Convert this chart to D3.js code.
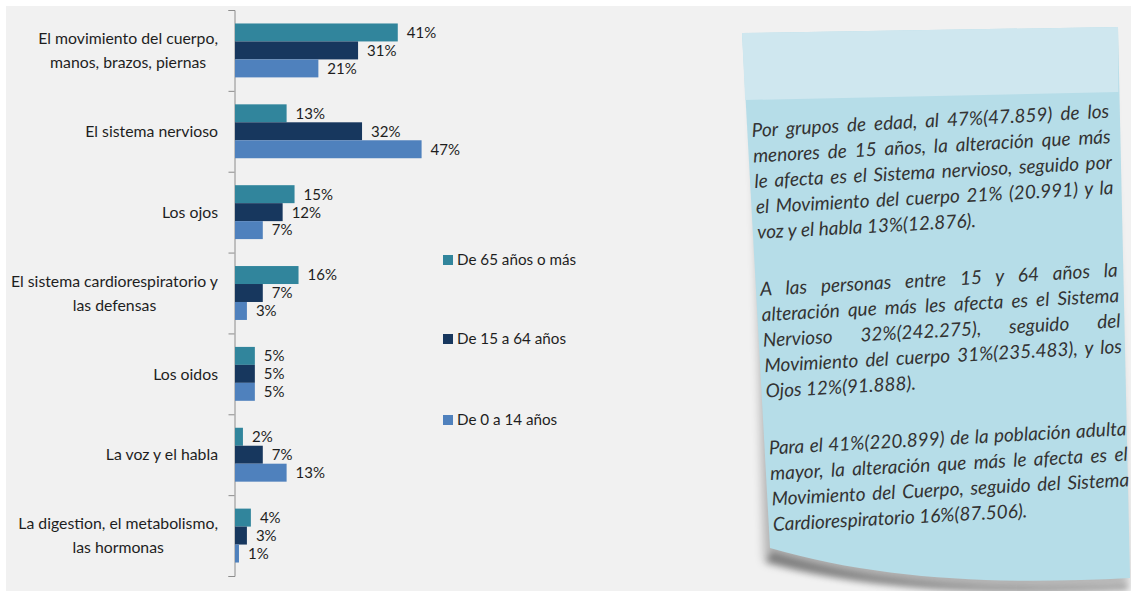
<!DOCTYPE html>
<html>
<head>
<meta charset="utf-8">
<script src="https://cdn.jsdelivr.net/npm/d3@7"></script>
<style>
  body { margin: 0; background: #fff; }
  svg { display: block; font-family: Lato, "Open Sans", sans-serif; }
</style>
</head>
<body>
<svg id="chart" width="1131" height="591"></svg>
<script>
// categories (top to bottom)
const categories = [
  ['El movimiento del cuerpo,', 'manos, brazos, piernas'],
  ['El sistema nervioso'],
  ['Los ojos'],
  ['El sistema cardiorespiratorio y', 'las defensas'],
  ['Los oidos'],
  ['La voz y el habla'],
  ['La digestion, el metabolismo,', 'las hormonas']
]
const seriesNames = ['De 65 años o más', 'De 15 a 64 años', 'De 0 a 14 años']
const mayores = [41, 13, 15, 16, 5, 2, 4]
const adultos = [31, 32, 12, 7, 5, 7, 3]
const ninos = [21, 47, 7, 3, 5, 13, 1]
const colors = ['#31859c', '#17375e', '#4f81bd']

// note text, one array per paragraph
const parrafo1 = [
  'Por grupos de edad, al 47%(47.859) de los',
  'menores de 15 años, la alteración que más',
  'le afecta es el Sistema nervioso, seguido por',
  'el Movimiento del cuerpo 21% (20.991) y la',
  'voz y el habla 13%(12.876).'
]
const parrafo2 = [
  'A las personas entre 15 y 64 años la',
  'alteración que más les afecta es el Sistema',
  'Nervioso 32%(242.275), seguido del',
  'Movimiento del cuerpo 31%(235.483), y los',
  'Ojos 12%(91.888).'
]
const parrafo3 = [
  'Para el 41%(220.899) de la población adulta',
  'mayor, la alteración que más le afecta es el',
  'Movimiento del Cuerpo, seguido del Sistema',
  'Cardiorespiratorio 16%(87.506).'
]

const svg = d3.select('#chart')

// background panel
svg.append('rect')
  .attr('x', 6).attr('y', 6)
  .attr('width', 1125).attr('height', 585)
  .attr('fill', '#f1f1f1')

const data = categories.map((c, i) => ({ i: i, vals: [mayores[i], adultos[i], ninos[i]] }))

const x0 = 235
const x = d3.scaleLinear().domain([0, 50]).range([x0, x0 + 198.5])
const y = d3.scaleBand().domain(d3.range(categories.length)).range([10, 576])
const ySub = d3.scaleBand().domain([0, 1, 2]).range([0, y.bandwidth()]).paddingOuter(0.75)
const yTicks = d3.scaleLinear().domain([0, categories.length]).range([10, 576])

// axis with ticks between the groups
svg.append('g')
  .attr('class', 'y-axis')
  .attr('transform', `translate(${x0 - 0.5},0)`)
  .call(d3.axisLeft(yTicks).ticks(categories.length).tickFormat('').tickSize(6).tickSizeOuter(6))
  .call((g) => {
    g.selectAll('line').attr('stroke', '#8c8c8c')
    g.select('.domain').attr('stroke', '#8c8c8c')
  })

// bars
const groups = svg.selectAll('.grp')
  .data(data)
  .enter()
  .append('g')
  .attr('class', 'grp')
  .attr('transform', (d) => `translate(0,${y(d.i)})`)

groups.selectAll('rect')
  .data((d) => d.vals)
  .enter()
  .append('rect')
  .attr('x', x0)
  .attr('y', (d, j) => ySub(j))
  .attr('width', (d) => x(d) - x0)
  .attr('height', ySub.bandwidth())
  .attr('fill', (d, j) => colors[j])

groups.selectAll('.val')
  .data((d) => d.vals)
  .enter()
  .append('text')
  .attr('class', 'val')
  .attr('x', (d) => x(d) + 9)
  .attr('y', (d, j) => ySub(j) + ySub.bandwidth() / 2)
  .attr('dy', '0.36em')
  .attr('font-size', 15)
  .attr('fill', '#1e1e1e')
  .text((d) => d + '%')

// category labels, multi-line blocks centred on each other, right edge at 218
categories.forEach((lines, i) => {
  const cy = y(i) + y.bandwidth() / 2
  const lh = 24
  const g = svg.append('g')
  const texts = lines.map((l, k) => g.append('text')
    .attr('y', cy + (k - (lines.length - 1) / 2) * lh)
    .attr('dy', '0.36em')
    .attr('font-size', 15.8)
    .attr('fill', '#1e1e1e')
    .text(l))
  const maxW = d3.max(texts, (t) => t.node().getComputedTextLength())
  texts.forEach((t) => t.attr('x', 218 - maxW / 2).attr('text-anchor', 'middle'))
})

// legend
const legendY = [260, 339, 420]
seriesNames.forEach((s, j) => {
  svg.append('rect')
    .attr('x', 443).attr('y', legendY[j] - 5)
    .attr('width', 10).attr('height', 10)
    .attr('fill', colors[j])
  svg.append('text')
    .attr('x', 457).attr('y', legendY[j])
    .attr('dy', '0.36em')
    .attr('font-size', 15.2)
    .attr('fill', '#1e1e1e')
    .text(s)
})

// sticky note
const defs = svg.append('defs')
defs.append('filter').attr('id', 'blur').attr('x', '-20%').attr('y', '-20%').attr('width', '140%').attr('height', '140%')
  .append('feGaussianBlur').attr('stdDeviation', 5)
defs.append('filter').attr('id', 'blur2').attr('x', '-20%').attr('y', '-20%').attr('width', '140%').attr('height', '140%')
  .append('feGaussianBlur').attr('stdDeviation', 3)

const notePath = 'M742,33 L1118,27 L1130,578 C1000,585 880,580 770,548 Z'
svg.append('path')
  .attr('d', 'M752,60 L1110,40 L1128,584 C1000,592 870,588 764,562 Z')
  .attr('fill', '#000').attr('opacity', 0.25)
  .attr('filter', 'url(#blur)')
svg.append('path')
  .attr('d', 'M772,552 C880,585 1000,590 1128,584 L1128,590 C1000,596 870,592 766,562 Z')
  .attr('fill', '#000').attr('opacity', 0.3)
  .attr('filter', 'url(#blur2)')
svg.append('path').attr('d', notePath).attr('fill', '#b6dde8')
svg.append('path')
  .attr('d', 'M742,33 L1118,27 L1118.3,92 L745.2,100 Z')
  .attr('fill', '#cfe7ef')

// note text, rotated and justified with word spacing
const noteG = svg.append('g')
  .attr('transform', 'translate(752,137) rotate(-3.1)')
  .attr('font-style', 'italic')
  .attr('font-size', 19)
  .attr('fill', '#333')
const textW = 358
const lineH = 25.5
let yy = 0
;[parrafo1, parrafo2, parrafo3].forEach((par) => {
  par.forEach((l, k) => {
    const t = noteG.append('text').attr('x', 0).attr('y', yy).text(l)
    if (k < par.length - 1) {
      const w = t.node().getComputedTextLength()
      const gaps = l.split(' ').length - 1
      t.style('word-spacing', `${(textW - w) / gaps}px`)
    }
    yy += lineH
  })
  yy += 31.5
})
</script>
</body>
</html>
